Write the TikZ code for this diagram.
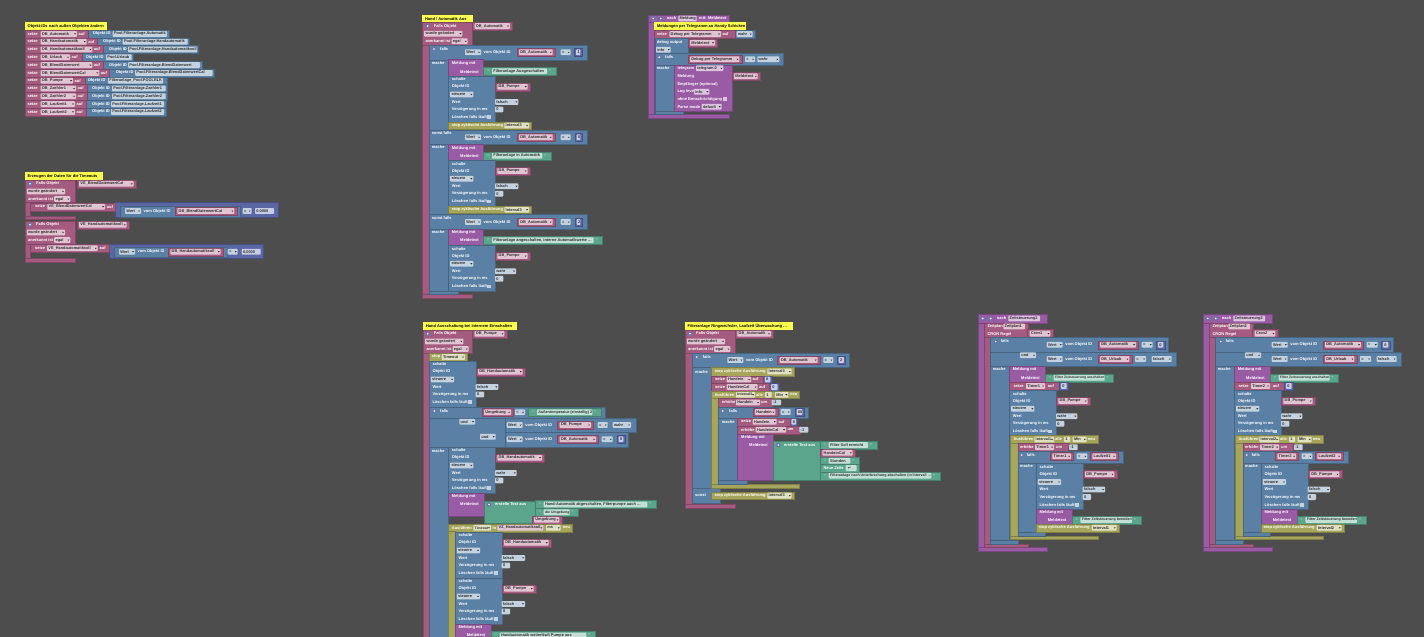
\documentclass[tikz,border=0pt]{standalone}
\usepackage{fontspec}
\setmainfont{Liberation Sans}
\newfontfamily\djvfont{DejaVu Sans}
\definecolor{bgc}{HTML}{4D4D4D}
\definecolor{pk}{HTML}{A55B80}
\definecolor{bl}{HTML}{5B80A5}
\definecolor{gr}{HTML}{5BA58C}
\definecolor{pu}{HTML}{9A5BA5}
\definecolor{ol}{HTML}{A5A55B}
\definecolor{ma}{HTML}{5B67A5}
\definecolor{ye}{HTML}{FFFF4D}
\definecolor{tpk}{HTML}{E0C4D2}
\definecolor{tbl}{HTML}{C4D2E0}
\definecolor{tgr}{HTML}{C4E0D6}
\definecolor{tol}{HTML}{E0E0C4}
\definecolor{tpu}{HTML}{DCC4E0}
\definecolor{tma}{HTML}{C8CCE4}
\definecolor{ink}{HTML}{303030}
\newcount\nc
\newsavebox\fb
\newcommand\FT[2]{\sbox\fb{#2}\pgfmathsetmacro\av{#1}\ifdim\wd\fb>\av pt \resizebox{\av pt}{!}{\usebox\fb}\else\usebox\fb\fi}
\tikzset{
  lbl/.style={inner sep=0pt,text=white,font=\fontsize{4.0}{5}\selectfont\bfseries,anchor=west},
  fldtxt/.style={inner sep=0pt,text=ink,font=\fontsize{3.9}{5}\selectfont\bfseries,anchor=west},
  cmt/.style={inner sep=0pt,text=black,font=\fontsize{4.0}{5}\selectfont\bfseries,anchor=west},
  blk/.style={line width=.3pt}
}
% block rectangle
\newcommand\Bk[5]{\path[blk,fill=#1,draw=#1!78!black] (#2,#3) rectangle (#4,#5);}
% white label
\newcommand\Tx[3]{\global\advance\nc by 1 \node[lbl] (n\the\nc) at (#1,#2) {#3};}
% plain field
\newcommand\Fi[5]{\fill[#1,rounded corners=.8pt] (#2,#4-2.9) rectangle (#3,#4+2.9);\global\advance\nc by 1 \node[fldtxt] (n\the\nc) at (#2+1.2,#4) {\FT{(#3)-(#2)-1.6}{#5}};}
% dropdown field
\newcommand\Fd[5]{\fill[#1,rounded corners=.8pt] (#2,#4-2.9) rectangle (#3,#4+2.9);\global\advance\nc by 1 \node[fldtxt] (n\the\nc) at (#2+1.2,#4) {\FT{(#3)-(#2)-4.2}{#5}};\fill[ink] (#3-2.9,#4-.5) -- (#3-1,#4-.5) -- (#3-1.95,#4+.8) -- cycle;}
% pink value with dropdown
\newcommand\Pv[4]{\Bk{pk}{#1}{#3-4}{#2}{#3+4}\Fd{tpk}{#1+2.3}{#2-2.3}{#3}{#4}}
% green string
\newcommand\Gs[4]{\Bk{gr}{#1}{#3-4}{#2}{#3+4}\Fi{tgr}{#1+8.7}{#2-8.7}{#3}{#4}\global\advance\nc by 1 \node[lbl,text=tgr] (n\the\nc) at (#1+3.8,#3) {“};\global\advance\nc by 1 \node[lbl,text=tgr] (n\the\nc) at (#2-6.8,#3) {”};}
% mutator icon
\newcommand\Ic[2]{\fill[ma!90!white] (#1,#2) circle (2.3pt);\fill[white] (#1,#2) circle (.9pt);}
% comment
\newcommand\Cm[4]{\fill[ye] (#1,#3) rectangle (#2,#3+7.7);\global\advance\nc by 1 \node[cmt] (n\the\nc) at (#1+2.5,#3+3.9) {#4};}
% math box with number
\newcommand\Mb[4]{\Bk{ma}{#1}{#3-4}{#2}{#3+4}\Fi{tma}{#1+1.6}{#2-1.6}{#3}{#4}}
% Wert row: xW,y,p1,p2,label,eq1,eq2
\newcommand\Wr[7]{\Fd{tbl}{#1}{#1+16}{#2}{Wert}\Tx{#1+18.5}{#2}{vom Objekt ID}\Pv{#3}{#4}{#2}{#5}\Fd{tbl}{#6}{#7}{#2}{=}}
% trigger head: x,ytop,icon x,p1,p2,label
\newcommand\Tr[6]{\Ic{#3}{#2+3.8}\Tx{#3+6}{#2+3.8}{Falls Objekt}\Pv{#4}{#5}{#2+3.8}{#6}\Fd{tpk}{#1+1.8}{#1+40}{#2+11.4}{wurde geändert}\Tx{#1+3}{#2+19}{anerkannt ist}\Fd{tpk}{#1+29.2}{#1+45.4}{#2+19}{egal}}
% control block: x,ytop,p2,objlabel,value,vend
\newcommand\Ctl[6]{\Bk{bl}{#1}{#2}{#1+46.7}{#2+46.2}\Tx{#1+3.4}{#2+3.6}{schalte}\Tx{#1+3.4}{#2+11}{Objekt ID}\Pv{#1+46.7}{#3}{#2+11}{#4}\Fd{tbl}{#1+1.8}{#1+25}{#2+18.7}{steuere}\Tx{#1+3.4}{#2+26.2}{Wert}\Fd{tbl}{#1+46.7}{#6}{#2+26.2}{#5}\Tx{#1+3.4}{#2+33.8}{Verzögerung in ms}\Fi{tbl}{#1+46.7}{#1+55}{#2+33.8}{0}\Tx{#1+3.4}{#2+41.4}{Löschen falls läuft}\fill[tbl] (#1+39,#2+39.6) rectangle (#1+42.8,#2+43.2);}
% Meldung block: x1,x2,ytop,ybot,ytext
\newcommand\Me[5]{\Bk{pu}{#1}{#3}{#2}{#4}\Tx{#1+3.4}{#3+3.7}{Meldung mit}\Tx{#1+11.7}{#5}{Meldetext}}
% setze-row of objects list
\newcommand\SR[9]{\Bk{bl}{#4}{#1-3.9}{#8}{#1+3.9}\Bk{pk}{25.5}{#1-3.9}{#4}{#1+3.9}\Tx{27.5}{#1}{setze}\Fd{tpk}{40.7}{#2}{#1}{#3}\Tx{#2+1.4}{#1}{auf}\Tx{#5}{#1}{Objekt ID}\Fi{tbl}{#6}{#7}{#1}{#9}}
% time panel
\newcommand\ZP[2]{%
\begin{scope}[xshift=#1pt]
\Bk{pu}{978.3}{322}{984.3}{547.3}\Bk{pu}{978.3}{547.3}{1046.7}{550.7}
\Bk{pu}{978.3}{314.3}{1046.7}{322.7}
\Ic{982.7}{318.5}\Ic{990.7}{318.5}\Tx{996.7}{318.5}{nach}\Fi{tpu}{1008.3}{1040}{318.5}{Zeitsteuerung#2}
\Bk{pk}{984.3}{322.7}{1027.7}{337.3}\Bk{pk}{984.3}{337}{990}{544}\Bk{pk}{984.3}{544}{1027.7}{547.3}
\Tx{987.3}{326.4}{Zeitplan}\Fi{tpk}{1003.3}{1025}{326.4}{Zeitplan#2}
\Tx{987.3}{334}{CRON Regel}\Pv{1027.3}{1052.7}{333.6}{Cron#2}
\Bk{bl}{990}{337.3}{1009.3}{540}\Bk{bl}{990}{540}{1018.3}{544}
\Bk{bl}{990}{337.3}{1168.3}{351.7}\Bk{bl}{990}{351.7}{1176}{366}
\Ic{995.7}{341.5}\Tx{1000.7}{341.5}{falls}
\Wr{1046.7}{344.7}{1097.7}{1138.3}{DB\_Automatik}{1141.7}{1152.7}
\Mb{1156.3}{1165}{344.7}{0}
\Fd{tbl}{1020}{1036}{355.3}{und}
\Wr{1046.7}{359}{1097.7}{1131.7}{DB\_Urlaub}{1135}{1146}
\Fd{tbl}{1151.7}{1171.7}{359}{falsch}
\Tx{992.7}{369.3}{mache}
\Me{1009.3}{1045}{366}{382.7}{377.7}
\Gs{1045}{1113.3}{377.8}{Filter Zeitsteuerung anschalten}
\Bk{pk}{1009.3}{382.3}{1059.3}{390}\Tx{1013.3}{386}{setze}\Fd{tpk}{1026}{1045}{386}{Timer#2}\Tx{1047.7}{386}{auf}\Mb{1059.3}{1068.3}{386}{0}
\Ctl{1009.3}{390}{1090}{DB\_Pumpe}{wahr}{1077.3}
\Bk{ol}{1010}{435}{1017.7}{536}\Bk{ol}{1010}{536}{1098.3}{539.3}
\Bk{ol}{1010}{435}{1098.3}{443.3}
\Tx{1013.3}{439.4}{Ausführen}\Fd{tol}{1034.3}{1054}{439.4}{Interval#2}\Tx{1055}{439.4}{alle}\Fi{tol}{1064}{1070}{439.4}{1}\Fd{tol}{1072.7}{1086.7}{439.4}{Min}\Tx{1087.7}{439.4}{neu}
\Bk{pk}{1017.7}{443.3}{1068.3}{451}\Tx{1020}{447.2}{erhöhe}\Fd{tpk}{1035}{1054}{447.2}{Timer#2}\Tx{1056}{447.2}{um}\Fi{tbl}{1069}{1077.7}{447.2}{-1}
\Bk{bl}{1017.7}{451}{1036}{531.7}\Bk{bl}{1017.7}{531.7}{1045}{536}
\Bk{bl}{1017.7}{451}{1122.7}{463.3}
\Ic{1021.7}{455}\Tx{1026.7}{455}{falls}
\Pv{1050}{1073.3}{456.3}{Timer#2}\Fd{tbl}{1076.7}{1087.3}{456.3}{=}\Pv{1090}{1118.3}{456.3}{Laufzeit#2}
\Tx{1020}{465.7}{mache}
\Ctl{1036}{463.3}{1116.7}{DB\_Pumpe}{falsch}{1105}
\Me{1036}{1071.7}{509}{524}{520}
\Gs{1071.7}{1140.7}{520}{Filter Zeitsteuerung beenden}
\Bk{ol}{1036}{524}{1119}{531.7}\Tx{1038.3}{527.8}{stop zyklische Ausführung}\Fd{tol}{1091.7}{1116.7}{527.8}{Interval#2}
\end{scope}}

\begin{document}
\begin{tikzpicture}[x=1pt,y=-1pt]
\useasboundingbox (0,0) rectangle (1424,637);
\clip (0,0) rectangle (1424,637);
\fill[bgc] (0,0) rectangle (1424,637);

% ---------- Panel 1
\Cm{25}{107}{22.3}{Objekt-IDs nach außen Objekten ändern}
\SR{33.9}{77}{DB\_Automatik}{88}{92.7}{112.7}{167}{169}{Pool.Filteranlage.Automatik}
\SR{41.7}{86.7}{DB\_Handautomatik}{97}{103}{122.7}{187.7}{189}{Pool.Filteranlage.Handautomatik}
\SR{49.5}{92.3}{DB\_Handautomatiksoll}{103}{109}{128}{197}{198}{Pool.Filteranlage.Handautomatiksoll}
\SR{57.3}{70}{DB\_Urlaub}{82}{85.7}{106}{131.7}{133}{Pool.Urlaub}
\SR{65.1}{92.3}{DB\_BlendDatenwert}{103}{109}{128}{200}{202}{Pool.Filteranlage.BlendDatenwert}
\SR{72.9}{99.3}{DB\_BlendDatenwertCal}{109}{115.7}{135}{212.7}{214}{Pool.Filteranlage.BlendDatenwertCal}
\SR{80.7}{73}{DB\_Pumpe}{85}{87.7}{108}{163}{167}{Filteranlage\_Pool.POOLBLK}
\SR{88.5}{76}{DB\_Zaehler1}{86.7}{92}{112}{165.7}{167}{Pool.Filteranlage.Zaehler1}
\SR{96.3}{76}{DB\_Zaehler2}{86.7}{92}{112}{165.7}{167}{Pool.Filteranlage.Zaehler2}
\SR{104.1}{75}{DB\_Laufzeit1}{85.7}{92}{111}{164}{166}{Pool.Filteranlage.Laufzeit1}
\SR{111.9}{75}{DB\_Laufzeit2}{85.7}{92}{111}{164}{166}{Pool.Filteranlage.Laufzeit2}

% ---------- Panel 2
\Cm{25}{103}{172.3}{Erzeugen der Daten für die Timeouts}
\Bk{pk}{25}{180}{75}{202.5}\Bk{pk}{25}{202}{30.5}{216}\Bk{pk}{25}{216.5}{75}{219.5}
\Tr{25}{180}{30}{76.7}{136}{VE\_BlendDatenwertCal}
\Bk{ma}{115}{202}{278}{217.3}
\Bk{pk}{30.5}{202.7}{115}{210.7}\Tx{35}{206.7}{setze}\Fd{tpk}{47.3}{105}{206.7}{VE\_BlendDatenwertCal}\Tx{106.7}{206.7}{auf}
\Bk{bl}{120}{206}{240}{216.7}
\Wr{125}{211}{175}{236.7}{DB\_BlendDatenwertCal}{242.7}{251.7}
\Fi{tma}{255}{274}{211}{0.0000}
\Bk{pk}{25}{221}{75}{244.5}\Bk{pk}{25}{244}{30.5}{258.5}\Bk{pk}{25}{258.5}{75}{262}
\Tr{25}{221}{30}{76.7}{129}{VE\_Handautomatiksoll}
\Bk{ma}{109}{244.3}{263}{258.3}
\Bk{pk}{30.5}{244.3}{109}{252.3}\Tx{35}{248.3}{setze}\Fd{tpk}{47}{97.7}{248.3}{VE\_Handautomatiksoll}\Tx{99.5}{248.3}{auf}
\Bk{bl}{114}{246.7}{226.7}{256.7}
\Wr{119}{251.7}{168}{223}{DB\_Handautomatiksoll}{227.7}{237.7}
\Fi{tma}{241.7}{260.7}{251.7}{0.0000}

% ---------- Panel 3
\Cm{422.3}{473.3}{14.7}{Hand / Automatik Aus}
\Bk{pk}{422.3}{22.3}{429}{294}\Bk{pk}{422.3}{294}{472}{298}
\Bk{pk}{422.3}{22.3}{472}{45.5}
\Tr{422.3}{22.3}{427.7}{472.3}{512.3}{DB\_Automatik}
\Bk{bl}{429}{45}{448.3}{290.7}\Bk{bl}{429}{290.7}{457.7}{294}
\Bk{bl}{429}{45}{586.7}{60}
\Ic{434}{49}\Tx{440}{49}{falls}
\Wr{465}{52.3}{516.7}{555}{DB\_Automatik}{560.7}{570.7}\Mb{574.5}{582}{52.3}{1}
\Tx{431.7}{63.3}{mache}
\Me{448.3}{483.3}{59.3}{76.7}{71.7}
\Gs{483.3}{555.7}{71.2}{Filteranlage Ausgeschalten}
\Ctl{448.3}{75.7}{530}{DB\_Pumpe}{falsch}{518.3}
\Bk{ol}{448.3}{121.7}{531}{129.3}\Tx{451.7}{125.5}{stop zyklische Ausführung}\Fd{tol}{504.3}{529}{125.5}{Interval3}
\Bk{bl}{429}{130}{586.7}{144.3}\Tx{431.7}{132.7}{sonst falls}
\Wr{465}{137.3}{516.7}{555}{DB\_Automatik}{560.7}{570.7}\Mb{575}{582}{137.3}{0}
\Tx{431.7}{147.3}{mache}
\Me{448.3}{483.3}{144.3}{161}{155.7}
\Gs{483.3}{551}{155.8}{Filteranlage in Automatik}
\Ctl{448.3}{160}{530}{DB\_Pumpe}{falsch}{518.3}
\Bk{ol}{448.3}{206}{531}{213.5}\Tx{451.7}{209.7}{stop zyklische Ausführung}\Fd{tol}{504.3}{529}{209.7}{Interval3}
\Bk{bl}{429}{214.3}{586.7}{229}\Tx{431.7}{218}{sonst falls}
\Wr{465}{222}{516.7}{555}{DB\_Automatik}{560.7}{570.7}\Mb{575}{582}{222}{2}
\Tx{431.7}{232.3}{mache}
\Me{448.3}{483.3}{229}{245}{240.3}
\Gs{483.3}{602.3}{240.2}{Filteranlage angeschalten, interne Automatikwerte …}
\Ctl{448.3}{245}{530}{DB\_Pumpe}{wahr}{516}

% ---------- Panel 4
\Bk{pu}{648.3}{14.7}{654.3}{116}\Bk{pu}{648.3}{114}{729.3}{118.3}
\Bk{pu}{648.3}{14.7}{729.3}{22.3}
\Ic{653.3}{18.5}\Ic{660.7}{18.5}\Tx{666.7}{18.5}{nach}\Fi{tpu}{678.3}{696.7}{18.5}{Meldung}\Tx{699}{18.5}{mit: Meldetext}
\Cm{654.3}{745.7}{22.3}{Meldungen per Telegramm an Handy Schicken}
\Bk{bl}{735}{30}{755}{38.3}\Fd{tbl}{736.7}{752.7}{34.1}{wahr}
\Bk{pk}{654.3}{30}{735}{38.3}\Tx{656.7}{34.1}{setze}\Fd{tpk}{669.3}{721}{34.1}{Debug per Telegramm}\Tx{722.3}{34.1}{auf}
\Bk{bl}{655}{38.3}{687.7}{53.3}\Tx{656.7}{42.7}{debug output}\Pv{687.7}{717.3}{42.7}{Meldetext}\Fd{tbl}{656}{670.7}{49.7}{info}
\Bk{bl}{655}{53.3}{674.3}{110.7}\Bk{bl}{655}{110.7}{683.3}{114}
\Bk{bl}{655}{53.3}{783.3}{65}
\Ic{659.3}{57.2}\Tx{665}{57.2}{falls}
\Pv{687.7}{741.7}{59.3}{Debug per Telegramm}\Fd{tbl}{745}{755}{59.3}{=}\Fd{tbl}{757.3}{779.3}{59.3}{wahr}
\Tx{656.7}{68.3}{mache}
\Bk{pu}{674.3}{65}{731.7}{110.7}
\Tx{677.3}{68.3}{telegram}\Fd{tpu}{696}{723.3}{68.3}{telegram.0}
\Tx{677.3}{76}{Meldung}\Pv{731.7}{760}{76.3}{Meldetext}
\Tx{677.3}{84.7}{Empfänger (optional)}
\Tx{677.3}{91.7}{Log level}\Fd{tpu}{694}{709.3}{91.7}{info}
\Tx{677.3}{99.3}{ohne Benachrichtigung}\fill[tpu] (723,97.3) rectangle (727,101.3);
\Tx{677.3}{106.7}{Parse mode}\Fd{tpu}{701.7}{721.7}{106.7}{default}

% ---------- Panel 5
\Cm{685}{793.3}{322.3}{Filteranlage Ringwechsler, Laufzeit Überwachung …}
\Bk{pk}{685}{330}{692.3}{504}\Bk{pk}{685}{504}{735}{508.3}
\Bk{pk}{685}{330}{735}{353}
\Tr{685}{330}{690}{735}{773.3}{DB\_Automatik}
\Bk{bl}{692.3}{352.7}{711}{503}\Bk{bl}{692.3}{488}{720}{503}
\Bk{bl}{692.3}{352.7}{849.3}{367.3}
\Ic{696.7}{357}\Tx{702.7}{357}{falls}
\Wr{727.3}{360}{777.3}{820}{DB\_Automatik}{823.3}{833.3}\Mb{837}{845.5}{360}{2}
\Tx{695}{371.7}{mache}
\Bk{ol}{711}{367.3}{794}{375.7}\Tx{714.3}{371.5}{stop zyklische Ausführung}\Fd{tol}{767.3}{791.7}{371.5}{Interval3}
\Bk{ma}{763.3}{375.7}{771.7}{383.3}\Fi{tma}{764.8}{770.3}{379.5}{0}
\Bk{pk}{711}{375.7}{763.3}{383.3}\Tx{715}{379.5}{setze}\Fd{tpk}{726.7}{751}{379.5}{Handein}\Tx{752.3}{379.5}{auf}
\Bk{ma}{769.3}{383.3}{779.3}{391}\Fi{tma}{771}{777.7}{387.1}{0}
\Bk{pk}{711}{383.3}{769.3}{391}\Tx{715}{387.1}{setze}\Fd{tpk}{726.7}{757.7}{387.1}{HandeinCal}\Tx{759}{387.1}{auf}
\Bk{ol}{711}{391}{718.3}{487.7}\Bk{ol}{711}{483.7}{799.3}{487.7}
\Bk{ol}{711}{391}{799.3}{398.3}
\Tx{714.3}{394.7}{Ausführen}\Fd{tol}{736}{755}{394.7}{Interval3}\Tx{756}{394.7}{alle}\Fi{tol}{765}{771.7}{394.7}{1}\Fd{tol}{775}{788.3}{394.7}{Min}\Tx{790}{394.7}{neu}
\Bk{pk}{718.3}{398.3}{771.7}{406.7}\Tx{721.7}{402.5}{erhöhe}\Fd{tpk}{736}{760}{402.5}{Handein}\Tx{761}{402.5}{um}\Fi{tbl}{771.7}{781}{402.5}{-1}
\Bk{bl}{718.3}{406.7}{737.3}{480}\Bk{bl}{718.3}{480}{746.7}{483.7}
\Bk{bl}{718.3}{406.7}{808.3}{417.7}
\Ic{722.7}{411}\Tx{729}{411}{falls}
\Pv{752.7}{777.7}{412}{Handein}\Fd{tbl}{780.7}{790.7}{412}{=}\Mb{795}{804}{412}{60}
\Tx{721.7}{421.7}{mache}
\Bk{ma}{790}{417.7}{797.3}{425.7}\Fi{tma}{791.4}{796}{421.7}{0}
\Bk{pk}{737.3}{417.7}{790}{425.7}\Tx{741}{421.7}{setze}\Fd{tpk}{752.7}{776.7}{421.7}{Handein}\Tx{778.3}{421.7}{auf}
\Bk{pk}{737.3}{425.7}{800}{433.7}\Tx{741}{429.7}{erhöhe}\Fd{tpk}{755.7}{786}{429.7}{HandeinCal}\Tx{787.3}{429.7}{um}\Fi{tbl}{799.3}{808.3}{429.7}{-1}
\Bk{pu}{737.3}{433.7}{772.7}{480}\Tx{741}{437.3}{Meldung mit}\Tx{749}{445}{Meldetext}
\Bk{gr}{772.7}{441}{820}{480}\Ic{778.3}{445}\Tx{784}{445}{erstelle Text aus}
\Gs{820}{876.7}{445}{Filter Soll erreicht}
\Pv{820}{855}{452.8}{HandeinCal}
\Gs{820}{859}{460.7}{Stunden}
\Bk{gr}{820}{464.3}{859}{472}\Tx{823.3}{468.1}{Neue Zeile}\Fi{tgr}{845.7}{856.7}{468.1}{\,{\djvfont ↵}}
\Gs{820}{940}{475.8}{Filteranlage nach Unterbrechung abschalten (in Intervall …}
\Tx{695}{495.7}{sonst}
\Bk{ol}{711}{491.7}{794}{499.3}\Tx{714.3}{495.6}{stop zyklische Ausführung}\Fd{tol}{767.3}{791.7}{495.6}{Interval3}

% ---------- Panel 6
\Cm{423.3}{517.3}{322.3}{Hand Ausschaltung bei internem Einschalten}
\Bk{pk}{423.3}{330}{429}{640}
\Bk{pk}{423.3}{330}{472.3}{353}
\Tr{423.3}{330}{427.7}{472.3}{506.7}{DB\_Pumpe}
\Bk{ol}{429}{353}{466.7}{361}\Tx{431.7}{357}{stop}\Fd{tol}{441.7}{465}{357}{Timeout}
\Ctl{429}{360.7}{525}{DB\_Handautomatik}{falsch}{498.3}
\Bk{bl}{429}{406.7}{448.3}{640}
\Bk{bl}{429}{406.7}{505}{446.7}
\Bk{bl}{429}{406.7}{605}{418.3}
\Ic{434.3}{411}\Tx{440}{411}{falls}
\Pv{481.7}{513.3}{412.3}{Umgebung}\Fd{tbl}{515}{525}{412.3}{<}\Gs{528.3}{601}{412.3}{Außentemperatur (einstellig) 2}
\Bk{bl}{505}{418.3}{635.7}{432.3}\Fd{tbl}{459.3}{475}{421.7}{und}
\Wr{506.7}{425}{557.3}{593.3}{DB\_Pumpe}{597.7}{607.7}\Fd{tbl}{612.7}{631}{425}{wahr}
\Bk{bl}{505}{432.3}{628.3}{446.7}\Fd{tbl}{480}{495.7}{436.7}{und}
\Wr{506.7}{439.3}{557.3}{598.3}{DB\_Automatik}{601.7}{612.7}\Mb{617}{625}{439.3}{0}
\Tx{431.7}{450.7}{mache}
\Ctl{448.3}{446.7}{544.3}{DB\_Handautomatik}{wahr}{516.7}
\Me{448.3}{484.3}{492.7}{516}{504.3}
\Bk{gr}{484.3}{500.7}{535}{523.3}\Ic{489}{504.5}\Tx{495}{504.5}{erstelle Text aus}
\Gs{535}{656}{504.5}{Hand-Automatik abgeschalten, Filterpumpe auch …}
\Gs{535}{578.3}{512.2}{die Umgebung}
\Pv{531.7}{561.7}{519.8}{Umgebung}
\Bk{ol}{448.3}{524}{571.7}{531.7}\Tx{451.7}{527.8}{Ausführen}\Fd{tol}{473.3}{491}{527.8}{Timeout}\Tx{492.5}{527.8}{in}\Fd{tpk}{497.3}{543.3}{527.8}{VZ\_Handautomatiksoll}\Fd{tol}{546}{560.7}{527.8}{ms}\Tx{562.7}{527.8}{neu}
\Bk{ol}{448.3}{531}{455}{640}
\Ctl{455}{531.7}{551}{DB\_Handautomatik}{falsch}{525}
\Ctl{455}{577.7}{536}{DB\_Pumpe}{falsch}{525}
\Me{455}{491}{624}{640}{635.3}
\Gs{491}{595}{635.5}{Handautomatik weiterläuft Pumpe aus}

% ---------- Panels 7, 8
\ZP{0}{1}
\ZP{225}{2}
\end{tikzpicture}
\end{document}
